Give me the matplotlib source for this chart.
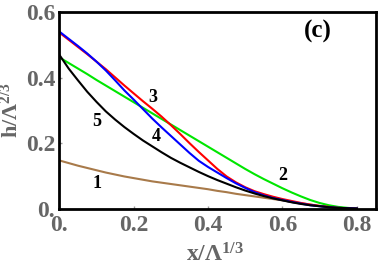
import numpy as np
import matplotlib
matplotlib.use('Agg')
import matplotlib.pyplot as plt

# values
x = [0.0, 0.025, 0.05, 0.075, 0.1, 0.125, 0.15, 0.175, 0.2, 0.225, 0.25,
     0.275, 0.3, 0.325, 0.35, 0.375, 0.4, 0.425, 0.45, 0.475, 0.5, 0.525,
     0.55, 0.575, 0.6, 0.625, 0.65, 0.675, 0.7, 0.725, 0.75, 0.775, 0.8]
h1 = [0.147, 0.139, 0.131, 0.124, 0.117, 0.110, 0.104, 0.098, 0.093, 0.088, 0.083,
      0.079, 0.075, 0.071, 0.067, 0.063, 0.059, 0.054, 0.050, 0.045, 0.041, 0.037,
      0.033, 0.029, 0.025, 0.020, 0.016, 0.012, 0.008, 0.005, 0.002, 0.001, 0.0]
h2 = [0.462, 0.445, 0.428, 0.411, 0.393, 0.376, 0.359, 0.342, 0.325, 0.308, 0.291,
      0.274, 0.257, 0.240, 0.223, 0.206, 0.189, 0.172, 0.155, 0.138, 0.121, 0.105,
      0.090, 0.076, 0.062, 0.049, 0.037, 0.026, 0.017, 0.010, 0.005, 0.002, 0.0]
h3 = [0.538, 0.516, 0.494, 0.472, 0.449, 0.426, 0.401, 0.376, 0.352, 0.328, 0.305,
      0.281, 0.255, 0.228, 0.200, 0.173, 0.147, 0.121, 0.098, 0.080, 0.065, 0.053,
      0.044, 0.036, 0.029, 0.023, 0.017, 0.012, 0.008, 0.005, 0.002, 0.001, 0.0]
h4 = [0.541, 0.519, 0.497, 0.474, 0.449, 0.422, 0.392, 0.361, 0.333, 0.304, 0.275,
      0.248, 0.222, 0.196, 0.170, 0.146, 0.127, 0.110, 0.093, 0.077, 0.063, 0.050,
      0.040, 0.032, 0.026, 0.020, 0.015, 0.010, 0.007, 0.004, 0.002, 0.001, 0.0]
h5 = [0.470, 0.428, 0.392, 0.357, 0.326, 0.297, 0.272, 0.249, 0.228, 0.208, 0.190,
      0.172, 0.155, 0.140, 0.126, 0.112, 0.099, 0.087, 0.076, 0.065, 0.055, 0.046,
      0.038, 0.031, 0.025, 0.019, 0.014, 0.010, 0.007, 0.004, 0.002, 0.001, 0.0]

curves = [h1, h2, h3, h4, h5]
colors = ['#a87a4a', '#00e600', '#ff0000', '#0000ff', '#000000']
curve_labels = ['1', '2', '3', '4', '5']
label_pos = [(0.100, 0.078), (0.600, 0.100), (0.251, 0.338), (0.261, 0.221), (0.100, 0.266)]

xticks = [0.0, 0.2, 0.4, 0.6, 0.8]
xtick_labels = ['0.', '0.2', '0.4', '0.6', '0.8']
yticks = [0.0, 0.2, 0.4, 0.6]
ytick_labels = ['0.', '0.2', '0.4', '0.6']

plt.rcParams['font.family'] = 'Liberation Serif'
plt.rcParams['font.weight'] = 'bold'
plt.rcParams['mathtext.fontset'] = 'custom'
plt.rcParams['mathtext.rm'] = 'Liberation Serif:bold'
plt.rcParams['mathtext.it'] = 'Liberation Serif:bold'
plt.rcParams['mathtext.bf'] = 'Liberation Serif:bold'
plt.rcParams['mathtext.default'] = 'regular'

fig = plt.figure(figsize=(3.78, 2.67), dpi=100)
ax = fig.add_axes([0.157, 0.219, 0.838, 0.735])

for h, c in zip(curves, colors):
    ax.plot(x, h, color=c, lw=1.5)

for lab, (lx, ly) in zip(curve_labels, label_pos):
    ax.text(lx, ly, lab, fontsize=13, fontweight='bold', ha='center', va='center')
ax.text(0.695, 0.541, '(c)', fontsize=18, fontweight='bold', ha='center', va='center')

ax.set_xlim(0, 0.852)
ax.set_ylim(0, 0.6)
grey = '#666666'
ax.set_xticks(xticks)
ax.set_xticklabels(xtick_labels)
ax.set_yticks(yticks)
ax.set_yticklabels(ytick_labels)
ax.tick_params(direction='in', length=2, width=1, color='#999999',
               labelcolor=grey, labelsize=17)
ax.tick_params(axis='x', pad=5)
ax.tick_params(axis='y', pad=3)
for lbl in ax.get_xticklabels() + ax.get_yticklabels():
    lbl.set_fontweight('bold')
for sp in ax.spines.values():
    sp.set_linewidth(2)

ax.set_xlabel('x/Λ$^{1/3}$', color=grey, fontsize=17, fontweight='bold')
ax.set_ylabel('h/Λ$^{2/3}$', color=grey, fontsize=16, fontweight='bold')
ax.xaxis.set_label_coords(0.49, -0.175)
ax.yaxis.set_label_coords(-0.115, 0.5)

plt.savefig('out.png', dpi=100)
plt.close()
